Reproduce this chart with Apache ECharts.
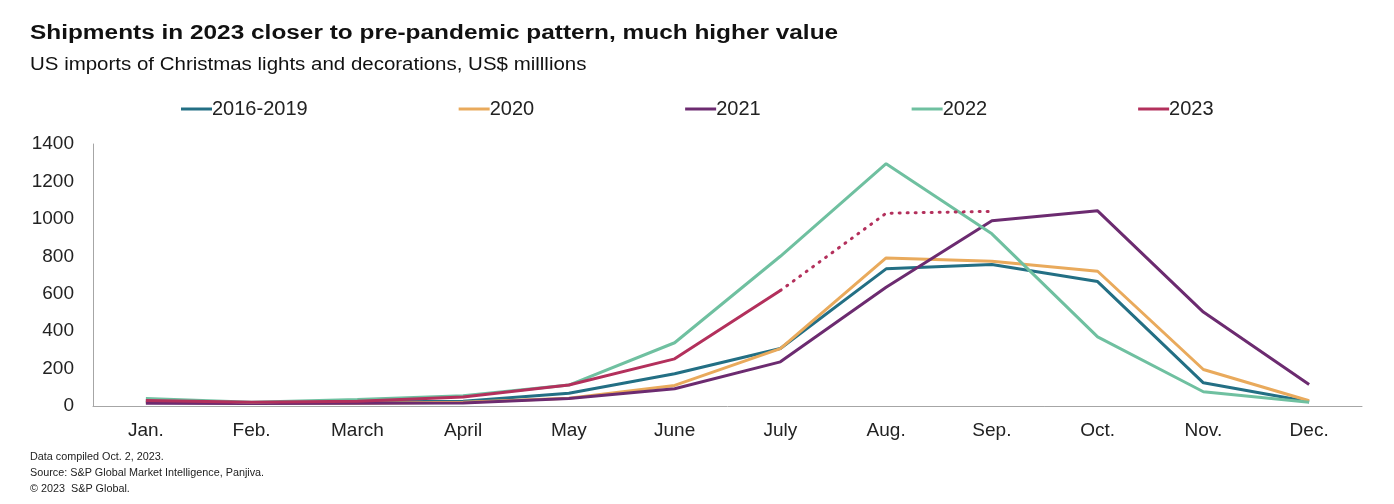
<!DOCTYPE html>
<html>
<head>
<meta charset="utf-8">
<script src="https://cdn.jsdelivr.net/npm/echarts@6/dist/echarts.min.js"></script>
<style>html,body{margin:0;padding:0;background:#fff}#c{width:1394px;height:504px}</style>
</head>
<body>
<div id="c"></div>
<script>
const months = ['Jan.', 'Feb.', 'March', 'April', 'May', 'June', 'July', 'Aug.', 'Sep.', 'Oct.', 'Nov.', 'Dec.'];
const s2016_2019 = [25, 18, 22, 25, 68, 172, 307, 733, 756, 665, 124, 23];
const s2020 = [20, 15, 15, 20, 42, 110, 307, 791, 773, 720, 195, 28];
const s2021 = [15, 14, 15, 16, 40, 92, 236, 635, 990, 1043, 502, 115];
const s2022 = [40, 20, 35, 55, 112, 338, 800, 1295, 920, 369, 76, 20];
const s2023 = [30, 20, 25, 48, 112, 252, 617, null, null, null, null, null];
const s2023proj = [null, null, null, null, null, null, 617, 1030, 1040, null, null, null];
const yTicks = [0, 200, 400, 600, 800, 1000, 1200, 1400];

const titleText = 'Shipments in 2023 closer to pre-pandemic pattern, much higher value';
const subtitleText = 'US imports of Christmas lights and decorations, US$ milllions';
const footnotes = ['Data compiled Oct. 2, 2023.', 'Source: S&P Global Market Intelligence, Panjiva.', '© 2023  S&P Global.'];

const FONT = 'Liberation Sans, Arial, sans-serif';
const colors = {
  '2016-2019': '#236f84',
  '2020': '#e9aa5c',
  '2021': '#6c2b70',
  '2022': '#6fc0a0',
  '2023': '#b3305c'
};

function lineSeries(name, data) {
  return {
    name: name,
    type: 'line',
    data: data,
    symbol: 'none',
    smooth: false,
    connectNulls: false,
    lineStyle: { width: 3, color: colors[name] },
    itemStyle: { color: colors[name] },
    emphasis: { disabled: true }
  };
}

const graphics = [
  { type: 'text', x: 30, y: 33, scaleX: 1.22, silent: true,
    style: { text: titleText, font: 'bold 20px ' + FONT, fill: '#111', verticalAlign: 'middle' } },
  { type: 'text', x: 30, y: 65, scaleX: 1.17, silent: true,
    style: { text: subtitleText, font: '17.5px ' + FONT, fill: '#111', verticalAlign: 'middle' } }
];
footnotes.forEach(function (t, i) {
  graphics.push({ type: 'text', x: 30, y: 457 + i * 16, scaleX: 1.08, silent: true,
    style: { text: t, font: '10px ' + FONT, fill: '#222', verticalAlign: 'middle' } });
});

const chart = echarts.init(document.getElementById('c'), null, { renderer: 'canvas' });
chart.setOption({
  animation: false,
  backgroundColor: '#fff',
  textStyle: { fontFamily: FONT },
  graphic: graphics,
  legend: {
    data: ['2016-2019', '2020', '2021', '2022', '2023'],
    left: 176, top: 94,
    icon: 'rect',
    itemWidth: 31, itemHeight: 3,
    itemGap: 151,
    textStyle: { fontFamily: FONT, fontSize: 20, color: '#222', padding: [0, 0, 0, -5] }
  },
  grid: { left: 93, right: 32, top: 144, bottom: 98, containLabel: false },
  xAxis: {
    type: 'category',
    data: months,
    boundaryGap: true,
    axisLine: { show: true, lineStyle: { color: '#a6a6a6', width: 1 } },
    axisTick: { show: false },
    axisLabel: { fontFamily: FONT, fontSize: 19, color: '#222', margin: 15 },
    splitLine: { show: false }
  },
  yAxis: {
    type: 'value',
    min: yTicks[0], max: yTicks[yTicks.length - 1], interval: 200,
    axisLine: { show: true, lineStyle: { color: '#a6a6a6', width: 1 } },
    axisTick: { show: false },
    axisLabel: { fontFamily: FONT, fontSize: 19, color: '#222', margin: 19,
      formatter: function (v) { return String(v); } },
    splitLine: { show: false }
  },
  series: [
    lineSeries('2016-2019', s2016_2019),
    lineSeries('2020', s2020),
    lineSeries('2021', s2021),
    lineSeries('2022', s2022),
    lineSeries('2023', s2023),
    {
      name: '2023 projection',
      type: 'line',
      data: s2023proj,
      symbol: 'none',
      lineStyle: { width: 3, color: colors['2023'], type: [1, 7], cap: 'round' },
      itemStyle: { color: colors['2023'] },
      emphasis: { disabled: true }
    }
  ]
});
</script>
</body>
</html>
